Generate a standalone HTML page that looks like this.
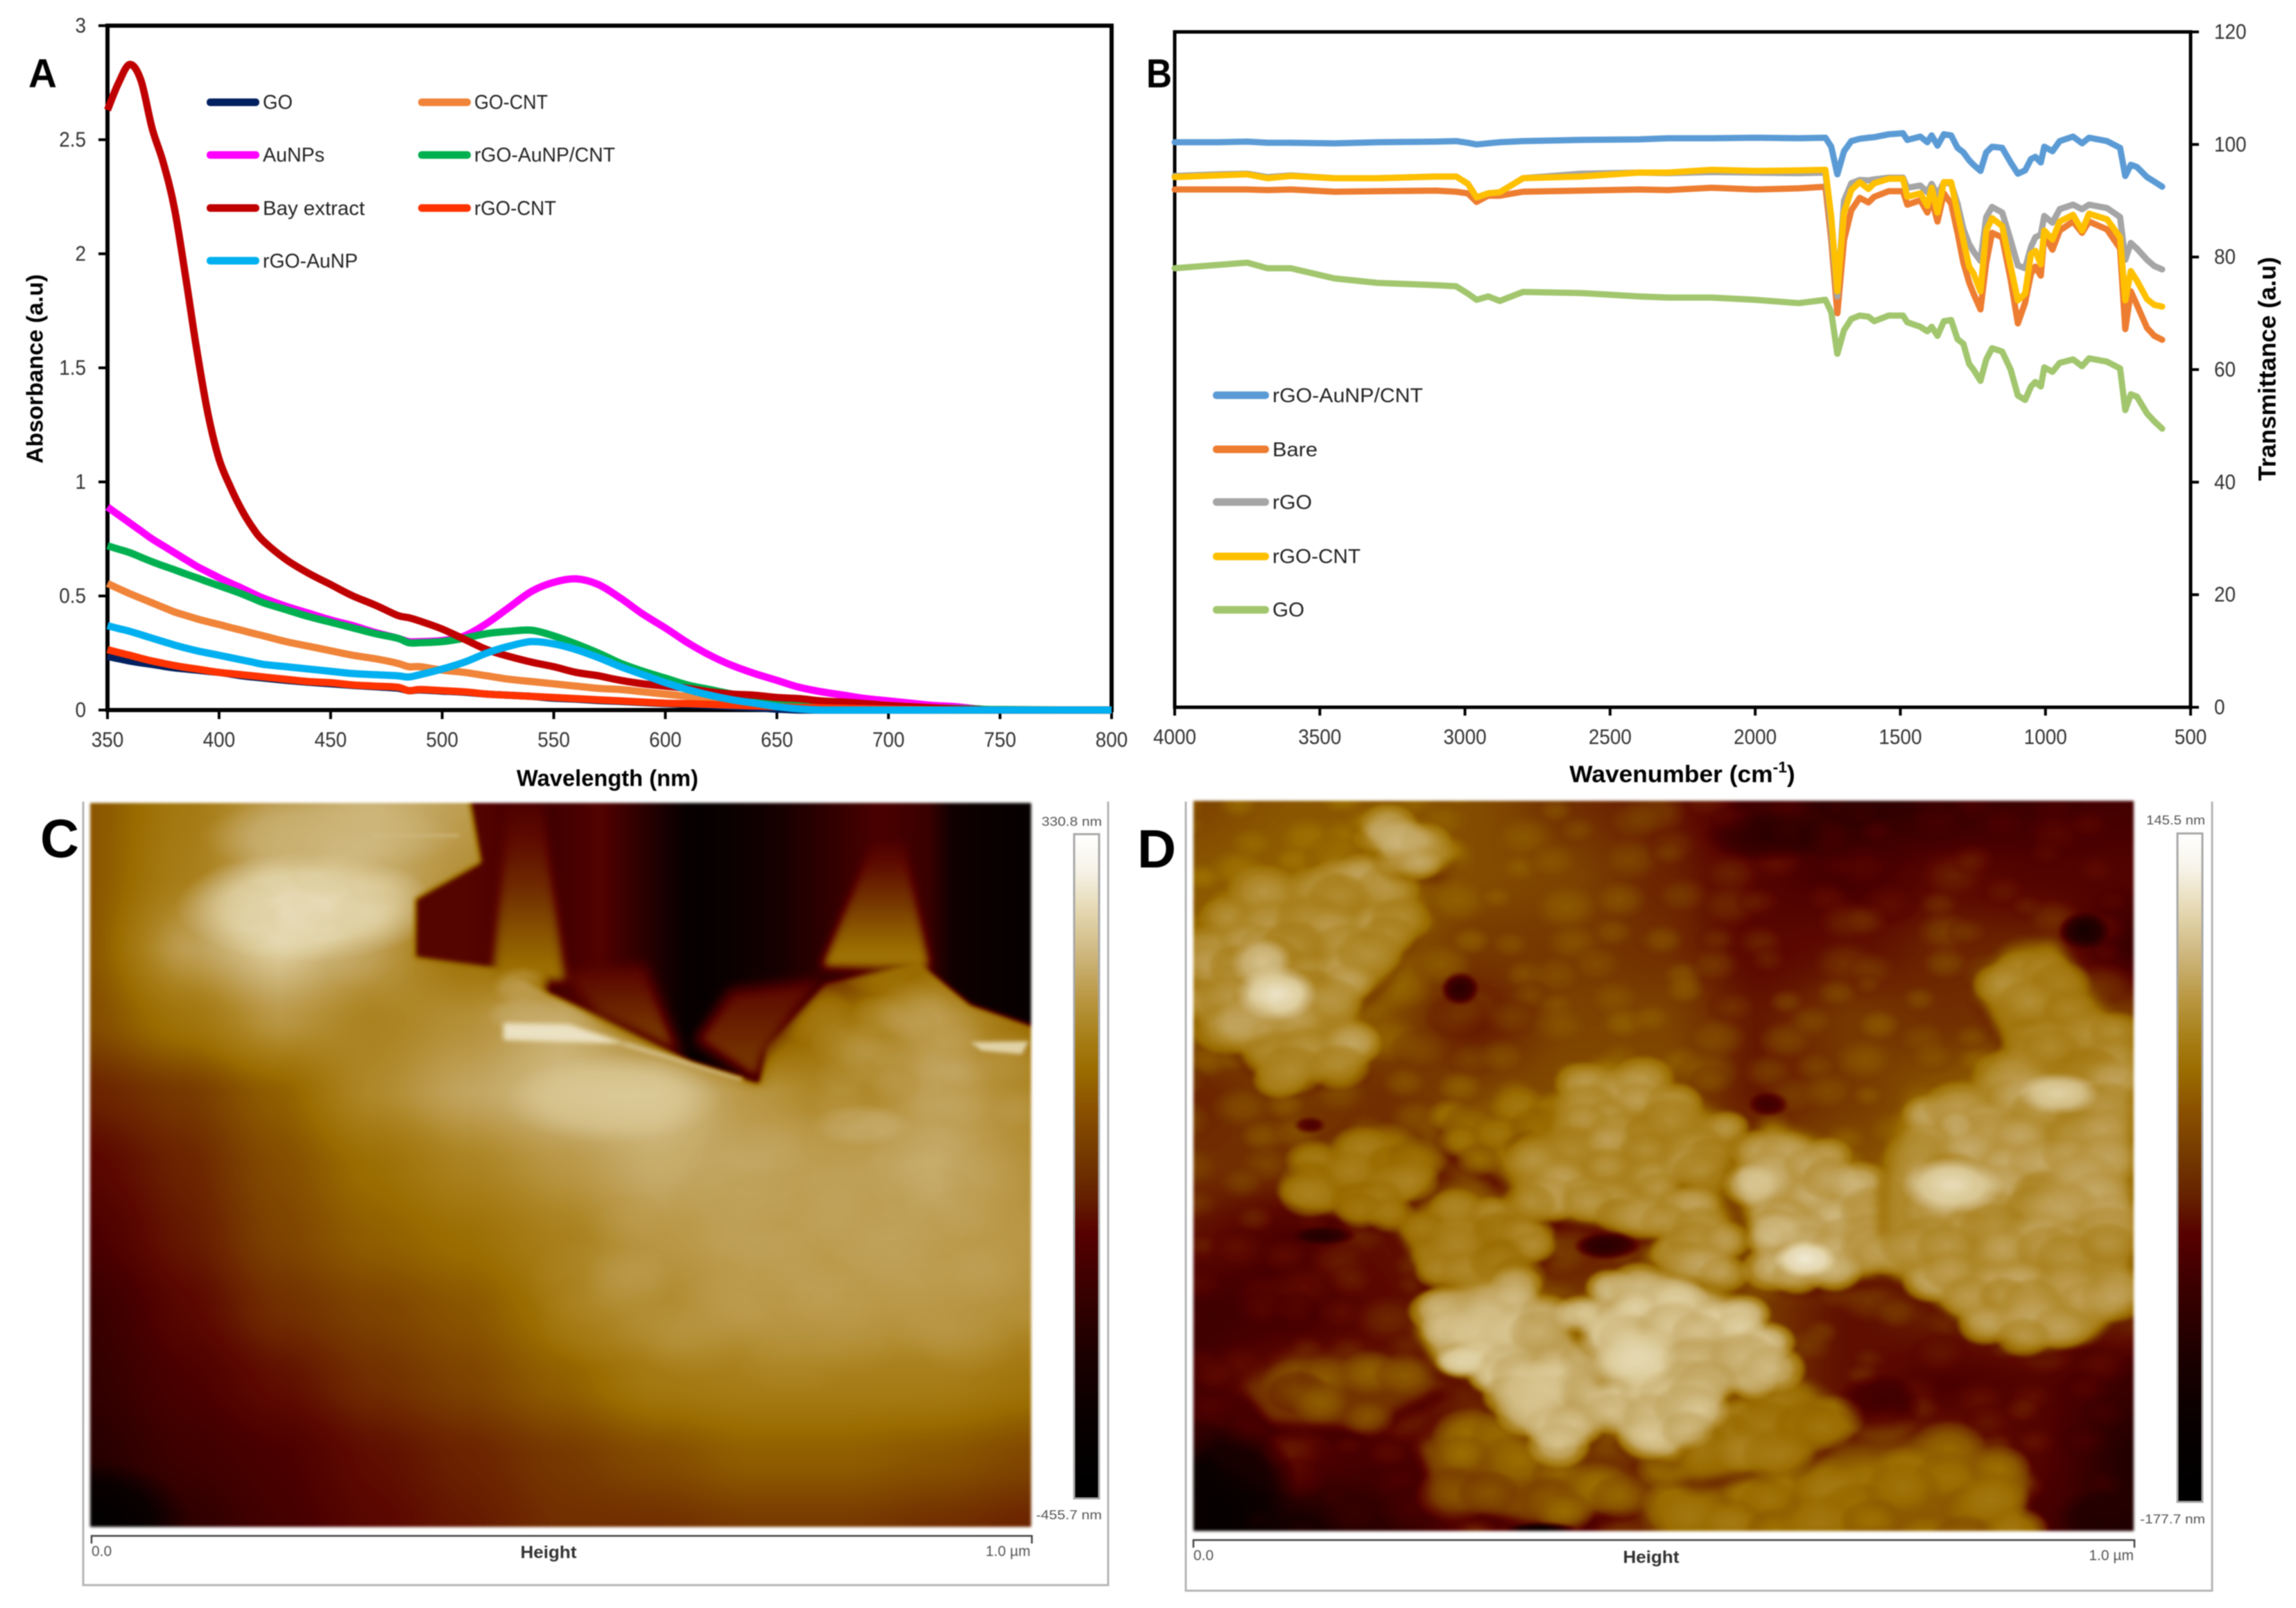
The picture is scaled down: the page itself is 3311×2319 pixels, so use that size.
<!DOCTYPE html>
<html lang="en">
<head>
<meta charset="utf-8">
<title>Absorbance, FTIR and AFM figure</title>
<style>
html,body{margin:0;padding:0;background:#fff;}
#figure{position:relative;width:3311px;height:2319px;background:#fff;overflow:hidden;font-family:"Liberation Sans",sans-serif;}
#figure svg{position:absolute;left:0;top:0;filter:blur(0.8px);}
#figure canvas{position:absolute;display:block;filter:blur(2px);}
</style>
</head>
<body>
<div id="figure">
<canvas id="afmC" width="1357" height="1044" style="left:130px;top:1158px;width:1357px;height:1044px"></canvas>
<canvas id="afmD" width="1356" height="1053" style="left:1721px;top:1155px;width:1356px;height:1053px"></canvas>
<svg id="chart" width="3311" height="2319" viewBox="0 0 3311 2319" xmlns="http://www.w3.org/2000/svg" font-family="'Liberation Sans',sans-serif">
  <defs>
    <linearGradient id="afmBar" x1="0" y1="0" x2="0" y2="1"></linearGradient>
  </defs>

  <!-- Panel A -->
  <g id="panelA">
    <g id="axesA"></g>
    <g id="seriesA" fill="none" stroke-width="10.5" stroke-linejoin="round" stroke-linecap="butt"></g>
    <text x="41" y="126" font-size="58" font-weight="700" fill="#000" textLength="41" lengthAdjust="spacingAndGlyphs">A</text>
    <text transform="translate(50,532) rotate(-90)" text-anchor="middle" dominant-baseline="central" font-size="33" font-weight="700" textLength="273" lengthAdjust="spacingAndGlyphs">Absorbance (a.u)</text>
    <text x="876" y="1122" text-anchor="middle" dominant-baseline="central" font-size="33" font-weight="700" textLength="262" lengthAdjust="spacingAndGlyphs">Wavelength (nm)</text>
    <g font-size="29" fill="#222">
      <g><rect x="298" y="142" width="76" height="11" rx="5" fill="#002060"/><text x="379" y="157" textLength="43" lengthAdjust="spacingAndGlyphs">GO</text></g>
      <g><rect x="298" y="218" width="76" height="11" rx="5" fill="#ff00ff"/><text x="379" y="233" textLength="89" lengthAdjust="spacingAndGlyphs">AuNPs</text></g>
      <g><rect x="298" y="294.500" width="76" height="11" rx="5" fill="#c00000"/><text x="379" y="310" textLength="147" lengthAdjust="spacingAndGlyphs">Bay extract</text></g>
      <g><rect x="298" y="370.500" width="76" height="11" rx="5" fill="#00b0f0"/><text x="379" y="386" textLength="137" lengthAdjust="spacingAndGlyphs">rGO-AuNP</text></g>
      <g><rect x="603" y="142" width="76" height="11" rx="5" fill="#f08439"/><text x="684" y="157" textLength="106" lengthAdjust="spacingAndGlyphs">GO-CNT</text></g>
      <g><rect x="603" y="218" width="76" height="11" rx="5" fill="#00b050"/><text x="684" y="233" textLength="203" lengthAdjust="spacingAndGlyphs">rGO-AuNP/CNT</text></g>
      <g><rect x="603" y="294.500" width="76" height="11" rx="5" fill="#ff3300"/><text x="684" y="310" textLength="118" lengthAdjust="spacingAndGlyphs">rGO-CNT</text></g>
    </g>
  </g>

  <!-- Panel B -->
  <g id="panelB">
    <g id="axesB"></g>
    <g id="seriesB" fill="none" stroke-width="9" stroke-linejoin="round" stroke-linecap="round"></g>
    <text x="1653" y="126" font-size="58" font-weight="700" fill="#000" textLength="37" lengthAdjust="spacingAndGlyphs">B</text>
    <text transform="translate(3270,532) rotate(-90)" text-anchor="middle" dominant-baseline="central" font-size="35" font-weight="700" textLength="323" lengthAdjust="spacingAndGlyphs">Transmittance (a.u)</text>
    <text transform="translate(2426,1117) scale(1.04,1)" text-anchor="middle" dominant-baseline="central" font-size="34" font-weight="700">Wavenumber (cm<tspan font-size="22" dy="-11">-1</tspan><tspan dy="11">)</tspan></text>
    <g font-size="29" fill="#222">
      <g><rect x="1749" y="564.500" width="81" height="11" rx="5" fill="#5b9bd5"/><text x="1835" y="580" textLength="217" lengthAdjust="spacingAndGlyphs">rGO-AuNP/CNT</text></g>
      <g><rect x="1749" y="642.500" width="81" height="11" rx="5" fill="#ed7d31"/><text x="1835" y="658" textLength="65" lengthAdjust="spacingAndGlyphs">Bare</text></g>
      <g><rect x="1749" y="718.500" width="81" height="11" rx="5" fill="#a5a5a5"/><text x="1835" y="734" textLength="57" lengthAdjust="spacingAndGlyphs">rGO</text></g>
      <g><rect x="1749" y="797" width="81" height="11" rx="5" fill="#ffc000"/><text x="1835" y="812" textLength="127" lengthAdjust="spacingAndGlyphs">rGO-CNT</text></g>
      <g><rect x="1749" y="874" width="81" height="11" rx="5" fill="#a2c66e"/><text x="1835" y="889" textLength="46" lengthAdjust="spacingAndGlyphs">GO</text></g>
    </g>
  </g>

  <!-- Panel C surround -->
  <g>
    <path d="M120 1156V2286H1598V1156" fill="none" stroke="#b5b5b5" stroke-width="3"/>
    <text x="58" y="1236" font-size="78" font-weight="700" textLength="56" lengthAdjust="spacingAndGlyphs">C</text>
    <rect x="1549" y="1203" width="36" height="958" fill="url(#afmBar)" stroke="#a8a8a8" stroke-width="3"/>
    <text x="1502" y="1191" font-size="18" fill="#555" textLength="87" lengthAdjust="spacingAndGlyphs">330.8 nm</text>
    <text x="1494" y="2191" font-size="18" fill="#555" textLength="95" lengthAdjust="spacingAndGlyphs">-455.7 nm</text>
    <path d="M132 2226V2215H1488V2226" fill="none" stroke="#444" stroke-width="2.500"/>
    <text x="132" y="2244" font-size="21" fill="#555">0.0</text>
    <text x="791" y="2247" text-anchor="middle" font-size="25" font-weight="700" fill="#333" textLength="81" lengthAdjust="spacingAndGlyphs">Height</text>
    <text x="1486" y="2244" text-anchor="end" font-size="21" fill="#555">1.0 µm</text>
  </g>

  <!-- Panel D surround -->
  <g>
    <path d="M1710 1156V2294H3190V1156" fill="none" stroke="#b5b5b5" stroke-width="3"/>
    <text x="1640" y="1251" font-size="78" font-weight="700" textLength="56" lengthAdjust="spacingAndGlyphs">D</text>
    <rect x="3140" y="1202" width="36" height="964" fill="url(#afmBar)" stroke="#a8a8a8" stroke-width="3"/>
    <text x="3095" y="1189" font-size="18" fill="#555" textLength="85" lengthAdjust="spacingAndGlyphs">145.5 nm</text>
    <text x="3086" y="2197" font-size="18" fill="#555" textLength="94" lengthAdjust="spacingAndGlyphs">-177.7 nm</text>
    <path d="M1721 2232V2221H3078V2232" fill="none" stroke="#444" stroke-width="2.500"/>
    <text x="1721" y="2250" font-size="21" fill="#555">0.0</text>
    <text x="2381" y="2254" text-anchor="middle" font-size="25" font-weight="700" fill="#333" textLength="81" lengthAdjust="spacingAndGlyphs">Height</text>
    <text x="3077" y="2250" text-anchor="end" font-size="21" fill="#555">1.0 µm</text>
  </g>
</svg>
</div>

<script>
/* ---------- Panel A data ---------- */
const wavelengths = [350,355,360,365,370,375,380,385,390,395,400,405,410,415,420,430,440,450,460,470,480,485,490,500,510,520,530,540,550,560,570,580,590,600,610,620,630,640,650,660,670,680,690,700,710,720,730,740,750,800];
const absGO = [.235,.225,.215,.207,.2,.192,.185,.18,.175,.17,.165,.158,.15,.145,.14,.13,.122,.115,.108,.102,.096,.085,.088,.083,.078,.07,.065,.06,.052,.048,.042,.038,.033,.028,.024,.02,.015,.01,.004,0,0,0,0,0,0,0,0,0,0,0];
const absGOCNT = [.555,.532,.51,.49,.47,.45,.43,.415,.4,.387,.375,.362,.35,.337,.325,.3,.28,.26,.24,.225,.205,.19,.19,.175,.165,.15,.135,.125,.115,.105,.095,.09,.08,.07,.06,.05,.04,.03,.02,.015,.01,.005,.003,.001,.001,0,0,0,0,0];
const absAuNPs = [.89,.855,.82,.785,.75,.72,.69,.66,.63,.605,.58,.557,.535,.512,.49,.455,.425,.395,.37,.34,.315,.3,.3,.305,.325,.38,.45,.52,.56,.575,.55,.49,.42,.36,.295,.24,.195,.16,.13,.1,.08,.065,.05,.04,.03,.02,.015,.005,.001,0];
const absRGOAuNPCNT = [.72,.705,.69,.67,.65,.632,.615,.597,.58,.562,.545,.528,.51,.49,.47,.44,.41,.385,.36,.335,.315,.295,.295,.3,.315,.335,.345,.35,.325,.29,.25,.205,.17,.14,.11,.09,.07,.055,.045,.035,.03,.025,.02,.015,.012,.01,.007,.005,.002,0];
const absBay = [2.63,2.75,2.83,2.76,2.55,2.4,2.2,1.9,1.58,1.3,1.1,.98,.88,.8,.74,.66,.6,.55,.5,.46,.415,.405,.39,.355,.31,.265,.235,.21,.19,.165,.15,.13,.115,.105,.095,.08,.07,.065,.055,.05,.04,.035,.028,.02,.015,.01,.005,.002,0,0];
const absRGOCNT = [.265,.252,.24,.227,.215,.205,.195,.187,.18,.172,.165,.16,.155,.15,.145,.135,.125,.12,.11,.105,.1,.085,.09,.085,.08,.07,.065,.06,.055,.05,.045,.04,.035,.03,.028,.025,.021,.018,.015,.012,.01,.008,.006,.004,.002,.001,0,0,0,0];
const absRGOAuNP = [.37,.357,.345,.33,.315,.3,.285,.272,.26,.25,.24,.23,.22,.21,.2,.19,.18,.17,.16,.155,.15,.145,.155,.18,.21,.25,.28,.3,.29,.265,.23,.19,.155,.12,.09,.065,.045,.03,.015,.005,0,0,0,0,0,0,0,0,0,0];
const xTicksA = [350,400,450,500,550,600,650,700,750,800];
const yTicksA = [0,0.5,1,1.5,2,2.5,3];

/* ---------- Panel B data ---------- */
const wavenumbers = [4000,3850,3750,3680,3600,3450,3300,3100,3030,2990,2960,2920,2880,2800,2600,2400,2300,2150,2000,1850,1758,1738,1717,1694,1669,1640,1610,1590,1540,1491,1476,1431,1407,1392,1372,1350,1325,1303,1283,1263,1248,1224,1204,1184,1149,1120,1095,1070,1050,1035,1016,1004,976,951,905,874,850,788,743,725,706,685,650,625,598];
const trRGOAuNPCNT = [100.4,100.4,100.5,100.3,100.3,100.2,100.4,100.5,100.6,100.3,100,100.2,100.4,100.6,100.8,100.9,101.1,101.1,101.2,101.1,101.2,99.6,94.7,98.8,100.6,101,101.2,101.3,101.8,102,100.8,101.4,100.4,101.6,99.8,101.8,101.6,99.4,98.6,97.2,96.4,95.3,98.6,99.6,99.4,96.8,94.8,95.4,97.4,97.8,96.8,99.6,98.8,100.6,101.4,100.2,101.2,100.6,99.4,94.4,96.4,96,94.2,93.4,92.5];
const trBare = [92,92,92,91.9,92,91.6,91.7,91.8,91.6,91.3,89.8,90.9,90.9,91.6,91.8,92,91.9,92.3,92,92.2,92.5,83,70,83,88.3,90.5,89.7,90.7,91.7,91.7,89.3,90.1,87.9,90.3,86.3,91.3,89.5,84.3,79,75.5,73.5,70.7,79,84.3,83.5,76,68.2,71.9,77,78.3,76.7,83.9,81.3,84.7,86.3,84.3,86.3,84.9,81.5,67.2,73.9,71.5,67.4,66,65.3];
const trRGO = [94.4,94.7,94.8,94.2,94.5,94,94,94.3,94.3,93,90.6,91.3,91.5,94,94.8,95,94.9,95.1,95,94.9,95,85,73,90,93.1,93.7,93.6,93.8,94.1,94.1,92.3,92.7,91.5,93,91,93.3,93,89.5,85,82.3,81,79.3,87.1,88.9,87.9,83,78.5,78,81.8,83.5,84,87.3,86.1,88.5,89.3,88.5,89.3,88.7,87.1,79.5,82.5,81.5,79.5,78.4,77.8];
const trRGOCNT = [94.2,94.5,94.7,94,94.4,94,94,94.3,94.3,93,90.6,91.3,91.5,94,94.3,95,95,95.5,95.3,95.4,95.5,87.1,73.9,87.9,91.9,93.3,92.1,93.1,93.9,93.9,90.7,91.3,89.1,92.3,87.9,93.3,93.3,87.9,83,78.3,77.1,73.9,84.7,86.9,85.5,78.3,72.3,73.5,80.5,81.1,78.7,84.7,83.1,86.3,87.5,84.7,87.7,86.7,83.5,72.3,77.5,75.8,72.5,71.5,71.2];
const trGO = [78,78.6,79,78,78,76.2,75.4,75,74.8,73.5,72.4,73,72.2,73.8,73.6,73,72.8,72.8,72.4,71.8,72.4,70.2,62.8,67,69,69.6,69.4,68.6,69.6,69.6,68.4,67.6,66.8,67.6,66,68.6,68.8,65.4,64.6,61,60,58,61.8,63.8,63.2,60,55.4,54.6,57,57.8,57,60.4,59.6,61.2,61.8,60.6,62,61.4,60.2,52.8,55.6,55.2,52.2,50.8,49.5];
const xTicksB = [4000,3500,3000,2500,2000,1500,1000,500];
const yTicksB = [0,20,40,60,80,100,120];

const SVGNS = 'http://www.w3.org/2000/svg';

function axisAx(v){ return 155 + (v - 350) / 450 * (1603 - 155); }
function axisAy(v){ return 1024 - v / 3 * (1024 - 37); }
function axisBx(v){ return 1694 + (4000 - v) / 3500 * (3159 - 1694); }
function axisBy(v){ return 1020 - v / 120 * (1020 - 46); }

function makeEl(tag, attrs, parent){
  const el = document.createElementNS(SVGNS, tag);
  for (const k in attrs) el.setAttribute(k, attrs[k]);
  parent.appendChild(el);
  return el;
}

function drawLine(parent, xs, ys, fx, fy, color){
  const pts = xs.map((x, i) => fx(x).toFixed(1) + ',' + fy(ys[i]).toFixed(1)).join(' ');
  return makeEl('polyline', {points: pts, stroke: color}, parent);
}

function drawSmooth(parent, xs, ys, fx, fy, color){
  const p = xs.map((x, i) => [fx(x), fy(ys[i])]);
  let d = 'M' + p[0][0].toFixed(1) + ' ' + p[0][1].toFixed(1);
  for (let i = 0; i < p.length - 1; i++){
    const a = p[Math.max(0, i - 1)], b = p[i], c = p[i + 1], e = p[Math.min(p.length - 1, i + 2)];
    const c1x = b[0] + (c[0] - a[0]) / 6, c1y = Math.min(fy(0), b[1] + (c[1] - a[1]) / 6);
    const c2x = c[0] - (e[0] - b[0]) / 6, c2y = Math.min(fy(0), c[1] - (e[1] - b[1]) / 6);
    d += 'C' + c1x.toFixed(1) + ' ' + c1y.toFixed(1) + ' ' + c2x.toFixed(1) + ' ' + c2y.toFixed(1) + ' ' + c[0].toFixed(1) + ' ' + c[1].toFixed(1);
  }
  return makeEl('path', {d: d, stroke: color}, parent);
}

/* Panel A axes */
(function(){
  const ax = document.getElementById('axesA');
  const frame = makeEl('path', {d: 'M155 37V1024H1603V37Z', fill: 'none', stroke: '#000', 'stroke-width': 6}, ax);
  
  
  yTicksA.forEach(v => {
    const t = makeEl('line', {x1: 142, x2: 155, y1: axisAy(v), y2: axisAy(v), stroke: '#000', 'stroke-width': 4}, ax);
    
    
    const l = makeEl('text', {transform: 'translate(124,' + axisAy(v) + ') scale(.9,1)', 'text-anchor': 'end', 'dominant-baseline': 'central', 'font-size': 31, fill: '#333'}, ax);
    l.textContent = String(v);
    
    
  });
  xTicksA.forEach(v => {
    const t = makeEl('line', {x1: axisAx(v), x2: axisAx(v), y1: 1024, y2: 1037, stroke: '#000', 'stroke-width': 4}, ax);
    
    
    const l = makeEl('text', {transform: 'translate(' + axisAx(v) + ',1067) scale(.9,1)', 'text-anchor': 'middle', 'dominant-baseline': 'central', 'font-size': 31, fill: '#333'}, ax);
    l.textContent = String(v);
    
    
  });
})();

/* Panel A series */
(function(){
  const g = document.getElementById('seriesA');
  const l1 = drawSmooth(g, wavelengths, absGO, axisAx, axisAy, '#002060');
  
  
  const l2 = drawSmooth(g, wavelengths, absGOCNT, axisAx, axisAy, '#f08439');
  
  
  const l3 = drawSmooth(g, wavelengths, absAuNPs, axisAx, axisAy, '#ff00ff');
  
  
  const l4 = drawSmooth(g, wavelengths, absRGOAuNPCNT, axisAx, axisAy, '#00b050');
  
  
  const l5 = drawSmooth(g, wavelengths, absBay, axisAx, axisAy, '#c00000');
  
  
  const l6 = drawSmooth(g, wavelengths, absRGOCNT, axisAx, axisAy, '#ff3300');
  
  
  const l7 = drawSmooth(g, wavelengths, absRGOAuNP, axisAx, axisAy, '#00b0f0');
  
  
})();

/* Panel B axes */
(function(){
  const ax = document.getElementById('axesB');
  const frame = makeEl('path', {d: 'M1694 46V1020H3159V46Z', fill: 'none', stroke: '#000', 'stroke-width': 5}, ax);
  
  
  yTicksB.forEach(v => {
    const t = makeEl('line', {x1: 3159, x2: 3171, y1: axisBy(v), y2: axisBy(v), stroke: '#000', 'stroke-width': 4}, ax);
    
    
    const l = makeEl('text', {transform: 'translate(3193,' + axisBy(v) + ') scale(.9,1)', 'text-anchor': 'start', 'dominant-baseline': 'central', 'font-size': 31, fill: '#333'}, ax);
    l.textContent = String(v);
    
    
  });
  xTicksB.forEach(v => {
    const t = makeEl('line', {x1: axisBx(v), x2: axisBx(v), y1: 1020, y2: 1032, stroke: '#000', 'stroke-width': 4}, ax);
    
    
    const l = makeEl('text', {transform: 'translate(' + axisBx(v) + ',1063) scale(.9,1)', 'text-anchor': 'middle', 'dominant-baseline': 'central', 'font-size': 31, fill: '#333'}, ax);
    l.textContent = String(v);
    
    
  });
})();

/* Panel B series */
(function(){
  const g = document.getElementById('seriesB');
  const l1 = drawLine(g, wavenumbers, trRGOAuNPCNT, axisBx, axisBy, '#5b9bd5');
  
  
  const l2 = drawLine(g, wavenumbers, trBare, axisBx, axisBy, '#ed7d31');
  
  
  const l3 = drawLine(g, wavenumbers, trRGO, axisBx, axisBy, '#a5a5a5');
  
  
  const l4 = drawLine(g, wavenumbers, trRGOCNT, axisBx, axisBy, '#ffc000');
  
  
  const l5 = drawLine(g, wavenumbers, trGO, axisBx, axisBy, '#a2c66e');
  
  
})();

/* ---------- AFM colour scale ---------- */
const barStops = [[0,'#ffffff'],[.053,'#f6f3e8'],[.12,'#e3d5ad'],[.185,'#ccb47a'],[.25,'#b8963f'],[.317,'#a47a10'],[.356,'#9a6c00'],[.415,'#8a5000'],[.48,'#743a00'],[.547,'#642000'],[.6,'#560000'],[.68,'#3a0000'],[.78,'#1c0000'],[.88,'#080000'],[.98,'#000000'],[1,'#000000']];
barStops.forEach(s => {
  makeEl('stop', {offset: s[0], 'stop-color': s[1]}, document.getElementById('afmBar'));
});

const paletteStops = [[0,[0,0,0]],[.08,[10,0,0]],[.2,[44,0,0]],[.3,[74,0,0]],[.35,[92,8,0]],[.45,[122,62,0]],[.55,[154,108,0]],[.65,[173,133,36]],[.75,[196,168,101]],[.85,[223,207,160]],[.95,[246,242,228]],[1,[255,255,255]]];

function buildLut(){
  const lut = [];
  for (let i = 0; i < 256; i++){
    const t = i / 255;
    let k = 0;
    while (k < paletteStops.length - 2 && t > paletteStops[k + 1][0]) k++;
    const a = paletteStops[k], b = paletteStops[k + 1];
    const f = Math.min(1, Math.max(0, (t - a[0]) / (b[0] - a[0])));
    lut.push([0,1,2].map(c => Math.round(a[1][c] + (b[1][c] - a[1][c]) * f)));
  }
  return lut;
}
const LUT = buildLut();

function insidePoly(pts, x, y){
  let c = false;
  for (let i = 0, j = pts.length - 1; i < pts.length; j = i++){
    if ((pts[i][1] > y) !== (pts[j][1] > y) && x < (pts[j][0] - pts[i][0]) * (y - pts[i][1]) / (pts[j][1] - pts[i][1]) + pts[i][0]) c = !c;
  }
  return c;
}

function Painter(id, x0, y0, x1, y1, seed){
  const cv = document.getElementById(id);
  const ctx = cv.getContext('2d', {willReadFrequently: true});
  const sx = cv.width / (x1 - x0), sy = cv.height / (y1 - y0);
  const gv = h => { const v = Math.round(Math.max(0, Math.min(1, h)) * 255); return 'rgb(' + v + ',' + v + ',' + v + ')'; };
  function setT(){ ctx.setTransform(sx, 0, 0, sy, -x0 * sx, -y0 * sy); }
  let state = seed;
  const rnd = () => { state = (state * 1664525 + 1013904223) % 4294967296; return state / 4294967296; };
  let G = null;
  const sm = t => t * t * (3 - 2 * t) * .6 + t * .4;
  function gridAt(u, v){
    const rows = G.length, cols = G[0].length;
    const gy = Math.min(rows - 1.001, Math.max(0, v) * (rows - 1));
    const r = Math.floor(gy), fy = sm(gy - r);
    const gx = Math.min(cols - 1.001, Math.max(0, u) * (cols - 1));
    const c = Math.floor(gx), fx = sm(gx - c);
    return (G[r][c] * (1 - fx) + G[r][c + 1] * fx) * (1 - fy) + (G[r + 1][c] * (1 - fx) + G[r + 1][c + 1] * fx) * fy;
  }
  const api = {
    rnd: rnd,
    grid(vals){
      G = vals;
      const img = ctx.createImageData(cv.width, cv.height);
      for (let j = 0; j < cv.height; j++){
        for (let i = 0; i < cv.width; i++){
          const g = gridAt(i / cv.width, j / cv.height) * 255;
          const p = (j * cv.width + i) * 4;
          img.data[p] = g; img.data[p + 1] = g; img.data[p + 2] = g; img.data[p + 3] = 255;
        }
      }
      ctx.putImageData(img, 0, 0);
    },
    sample(x, y){ return gridAt((x - x0) / (x1 - x0), (y - y0) / (y1 - y0)); },
    poly(pts, fill, blur){
      setT();
      ctx.filter = 'blur(' + (blur || 0) + 'px)';
      ctx.fillStyle = typeof fill === 'number' ? gv(fill) : fill;
      ctx.beginPath();
      pts.forEach((p, i) => i ? ctx.lineTo(p[0], p[1]) : ctx.moveTo(p[0], p[1]));
      ctx.closePath();
      ctx.fill();
      ctx.filter = 'none';
    },
    lin(xa, ya, xb, yb, stops){
      setT();
      const g = ctx.createLinearGradient(xa, ya, xb, yb);
      stops.forEach(s => g.addColorStop(s[0], gv(s[1])));
      return g;
    },
    ell(x, y, rx, ry, h, alpha){
      setT();
      ctx.translate(x, y);
      ctx.scale(rx, ry);
      const v = Math.round(h * 255);
      const g = ctx.createRadialGradient(0, 0, 0, 0, 0, 1);
      g.addColorStop(0, 'rgba(' + v + ',' + v + ',' + v + ',' + alpha + ')');
      g.addColorStop(.6, 'rgba(' + v + ',' + v + ',' + v + ',' + (alpha * .72) + ')');
      g.addColorStop(1, 'rgba(' + v + ',' + v + ',' + v + ',0)');
      ctx.fillStyle = g;
      ctx.beginPath();
      ctx.arc(0, 0, 1, 0, 6.2832);
      ctx.fill();
    },
    bead(x, y, r, h, alpha){
      setT();
      const col = (l, a) => { const v = Math.round(Math.max(0, Math.min(1, l)) * 255); return 'rgba(' + v + ',' + v + ',' + v + ',' + a + ')'; };
      const g = ctx.createRadialGradient(x, y, 0, x, y, r);
      g.addColorStop(0, col(h + .05, alpha));
      g.addColorStop(.5, col(h + .015, alpha * .95));
      g.addColorStop(.82, col(h - .02, alpha * .55));
      g.addColorStop(1, col(h - .03, 0));
      ctx.fillStyle = g;
      ctx.beginPath();
      ctx.arc(x, y, r, 0, 6.2832);
      ctx.fill();
    },
    beadsIn(pts, spacing, rMin, rMax, level, vary, alpha){
      const xs = pts.map(p => p[0]), ys = pts.map(p => p[1]);
      const xa = Math.min.apply(null, xs), xb = Math.max.apply(null, xs), ya = Math.min.apply(null, ys), yb = Math.max.apply(null, ys);
      for (let y = ya; y <= yb; y += spacing * .85){
        for (let x = xa; x <= xb; x += spacing){
          const px = x + (rnd() - .5) * spacing * .8, py = y + (rnd() - .5) * spacing * .8;
          const r = rMin + rnd() * (rMax - rMin), dh = (rnd() - .45) * vary;
          if (insidePoly(pts, px, py)) api.bead(px, py, r, level + dh, alpha);
        }
      }
    },
    finish(){
      ctx.setTransform(1, 0, 0, 1, 0, 0);
      const img = ctx.getImageData(0, 0, cv.width, cv.height), d = img.data;
      for (let p = 0; p < d.length; p += 4){
        const c = LUT[d[p]];
        d[p] = c[0]; d[p + 1] = c[1]; d[p + 2] = c[2]; d[p + 3] = 255;
      }
      ctx.putImageData(img, 0, 0);
    }
  };
  return api;
}

/* ---------- AFM image C ---------- */
(function(){
  const P = Painter('afmC', 124, 37, 1413, 1414, 4711);
  P.grid([
    [.5,.6,.72,.78,.72,.5,.3,.2,.3,.3,.2],
    [.5,.62,.76,.76,.68,.55,.4,.3,.3,.35,.2],
    [.5,.72,.84,.72,.56,.55,.4,.3,.35,.5,.3],
    [.48,.58,.7,.64,.68,.76,.62,.45,.56,.72,.56],
    [.4,.44,.52,.66,.74,.8,.82,.7,.64,.72,.66],
    [.34,.4,.48,.56,.64,.7,.76,.74,.72,.76,.68],
    [.3,.38,.46,.52,.56,.63,.7,.72,.72,.72,.7],
    [.24,.34,.42,.46,.5,.58,.66,.7,.7,.7,.68],
    [.22,.3,.36,.42,.46,.52,.6,.62,.62,.62,.58],
    [.18,.26,.3,.36,.4,.44,.48,.52,.52,.5,.47],
    [.06,.2,.28,.34,.38,.42,.42,.44,.44,.42,.4]
  ]);
  /* bright soft areas before the dark region cuts them */
  P.ell(420,235,180,105,.9,.95);
  P.ell(450,100,180,70,.8,.6);
  P.ell(840,600,150,85,.84,.75);
  P.ell(1180,650,70,40,.8,.6);
  /* faint particle relief on the lower-right mass */
  const reliefMass = [[790,870],[900,770],[1000,690],[1200,650],[1413,690],[1413,1100],[800,1130]];
  P.beadsIn(reliefMass, 95, 60, 85, .72, .05, .18);
  const reliefPeak = [[1060,620],[1130,380],[1200,300],[1330,450],[1413,520],[1413,640]];
  P.beadsIn(reliefPeak, 70, 40, 60, .72, .06, .28);
  const reliefBlob = [[280,120],[540,90],[560,260],[500,360],[300,300]];
  P.beadsIn(reliefBlob, 70, 40, 55, .8, .05, .16);
  /* dark scan-streak region with a sharp lower edge */
  const darkFill = P.lin(640, 0, 1413, 0, [[0,.33],[.07,.3],[.15,.27],[.24,.32],[.4,.05],[.55,.12],[.73,.3],[.82,.24],[.86,.1],[1,.05]]);
  P.poly([[640,0],[1500,0],[1500,500],[1330,420],[1260,340],[1130,380],[1050,500],[1040,570],[950,530],[680,350],[570,330],[570,220],[660,150]], darkFill, 3);
  P.poly([[770,360],[885,340],[935,520],[820,440]], P.lin(0,340,0,520,[[0,.33],[1,.48]]), 9);
  P.poly([[950,490],[1000,390],[1130,370],[1050,520],[1040,570]], P.lin(0,370,0,570,[[0,.34],[1,.46]]), 9);
  P.poly([[695,37],[745,37],[775,375],[675,375]], P.lin(0,37,0,375,[[0,.31],[.5,.42],[1,.58]]), 7);
  P.poly([[1195,110],[1240,110],[1275,350],[1125,350]], P.lin(0,110,0,350,[[0,.31],[.5,.44],[1,.6]]), 7);
  P.ell(715,385,42,38,.72,.9);
  P.ell(715,440,50,35,.76,.7);
  P.poly([[690,455],[780,458],[860,495],[690,488]], .9, 3);
  P.poly([[860,492],[1020,560],[1015,566],[850,498]], .8, 2);
  P.poly([[510,97],[630,97],[630,101],[510,101]], .8, 1.500);
  P.poly([[1330,492],[1410,490],[1400,515],[1345,508]], .86, 2);
  P.ell(130,1400,130,110,0,.7);
  P.finish();
})();

/* ---------- AFM image D ---------- */
(function(){
  const P = Painter('afmD', 67, 33, 1347, 1422, 90210);
  P.grid([
    [.46,.5,.5,.48,.42,.38,.26,.2,.22,.26,.28],
    [.5,.52,.52,.48,.46,.4,.32,.28,.34,.32,.32],
    [.52,.5,.5,.44,.44,.42,.34,.36,.4,.4,.24],
    [.5,.46,.48,.38,.46,.46,.38,.44,.42,.44,.46],
    [.4,.44,.42,.46,.48,.48,.38,.44,.5,.56,.56],
    [.42,.42,.42,.42,.46,.46,.46,.48,.52,.56,.54],
    [.36,.3,.36,.42,.38,.42,.46,.46,.5,.54,.5],
    [.26,.28,.34,.42,.44,.46,.44,.36,.4,.44,.42],
    [.28,.38,.38,.4,.44,.46,.44,.36,.3,.32,.24],
    [.14,.32,.28,.36,.42,.44,.46,.42,.42,.32,.16],
    [.06,.1,.2,.34,.3,.44,.5,.46,.44,.28,.18]
  ]);
  /* background nodule texture across the whole scan */
  for (let y = 33; y < 1440; y += 62){
    for (let x = 67; x < 1360; x += 72){
      const px = x + (P.rnd() - .5) * 55, py = y + (P.rnd() - .5) * 50;
      const r = 24 + P.rnd() * 24, lift = .01 + P.rnd() * .06;
      P.bead(px, py, r, P.sample(px, py) + lift, .55);
    }
  }
  /* particle clusters, back to front: outline, level, bead spacing, min/max radius */
  const clusters = [
    [[[130,1150],[200,1080],[370,1100],[420,1140],[300,1230],[170,1220]],.45,60,38,54],
    [[[370,1260],[450,1190],[560,1280],[660,1320],[670,1380],[530,1410],[400,1370]],.49,60,40,58],
    [[[680,1480],[720,1330],[950,1270],[1130,1260],[1210,1320],[1180,1480]],.53,62,42,60],
    [[[660,1280],[780,1160],[900,1140],[965,1220],[900,1290],[750,1330]],.58,56,38,54],
    [[[1135,400],[1170,320],[1240,300],[1290,400],[1345,500],[1345,600],[1200,560],[1160,470]],.62,52,36,52],
    [[[67,440],[85,300],[100,230],[170,190],[300,170],[380,230],[360,300],[330,370],[290,420],[300,540],[190,570],[130,510],[80,460]],.66,50,36,52],
    [[[285,70],[340,60],[430,130],[400,170],[340,160]],.7,34,30,40],
    [[[195,780],[230,700],[340,670],[410,720],[340,830],[250,820]],.56,46,32,46],
    [[[340,840],[420,770],[500,800],[560,880],[510,940],[380,940]],.6,46,32,46],
    [[[400,640],[470,590],[560,600],[540,720],[490,760],[420,700]],.52,46,32,46],
    [[[560,600],[620,530],[690,560],[760,620],[810,650],[800,720],[720,760],[700,860],[540,820],[490,760],[540,700]],.65,48,32,48],
    [[[700,870],[720,780],[780,770],[810,890],[790,950],[680,910]],.68,42,30,44],
    [[[800,730],[850,650],[910,680],[970,750],[1000,830],[1000,935],[900,950],[840,940],[820,830]],.72,46,32,48],
    [[[1005,750],[1040,620],[1120,580],[1200,540],[1345,560],[1345,980],[1290,1060],[1220,1075],[1120,1030],[1040,950],[1005,930]],.68,52,36,54],
    [[[370,1040],[420,960],[490,935],[560,1000],[610,1100],[620,1230],[560,1270],[500,1210],[450,1130],[400,1110]],.76,46,34,50],
    [[[585,1000],[640,950],[720,930],[800,980],[860,1060],[865,1130],[790,1160],[720,1290],[640,1240],[620,1100]],.78,46,34,50]
  ];
  clusters.forEach(c => {
    P.poly(c[0].map(p => [p[0], p[1] + 14]), 'rgba(0,0,0,.34)', 8);
    P.poly(c[0], c[1] - .02, 9);
    P.beadsIn(c[0], c[2], c[3], c[4], c[1], .09, .85);
  });
  /* brightest particle caps */
  const caps = [[340,105,58,40,.8,.7],[180,400,56,54,.92,.95],[160,340,42,48,.84,.85],[140,450,46,46,.78,.6],[825,765,40,42,.84,.85],[900,905,44,36,.94,.95],[860,850,36,36,.84,.6],[1100,765,70,54,.9,.95],[1105,650,24,26,.8,.6],[1245,590,56,40,.87,.95],[670,1090,58,58,.88,.9],[640,1030,42,38,.84,.6],[530,1150,54,54,.84,.8],[430,1100,36,30,.88,.85],[460,1030,54,60,.82,.6]];
  caps.forEach(c => P.ell(c[0], c[1], c[2], c[3], c[4], c[5]));
  /* dark gaps */
  const dents = [[430,390,26,32,.55],[630,880,46,26,.55],[245,860,44,18,.5],[1280,280,36,36,.65],[850,100,90,50,.3],[120,1330,90,110,.6],[540,1418,50,12,.8],[850,610,28,24,.35],[225,650,22,16,.35],[1300,1400,60,60,.35],[1000,1180,60,60,.25]];
  dents.forEach(d => P.ell(d[0], d[1], d[2], d[3], 0, d[4]));
  P.finish();
})();
</script>
</body>
</html>
